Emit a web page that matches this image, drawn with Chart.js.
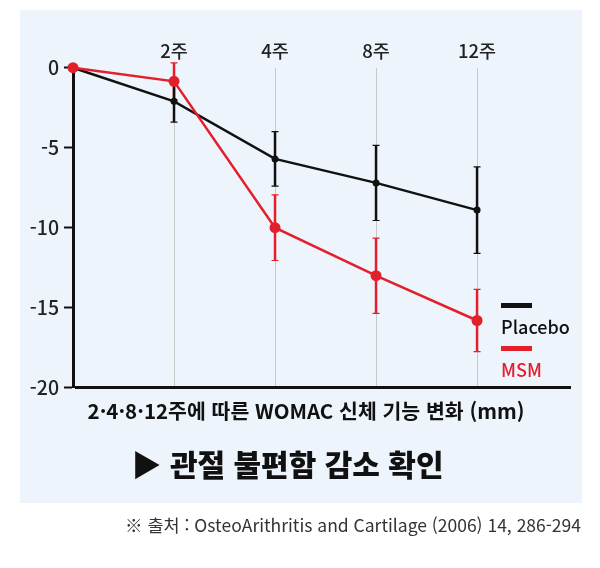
<!DOCTYPE html>
<html lang="ko">
<head>
<meta charset="utf-8">
<script src="https://cdn.jsdelivr.net/npm/chart.js@4.4.1/dist/chart.umd.min.js"></script>
<style>
  html, body { margin: 0; padding: 0; background: #fff; }
  body { width: 600px; height: 568px; position: relative; overflow: hidden;
         font-family: 'Noto Sans CJK KR', 'Noto Sans', sans-serif; }
  .panel { position: absolute; left: 20px; top: 10px; width: 562px; height: 493px; background: #eef4fc; }
  #chart { position: absolute; left: 0; top: 0; }
  .axis-title { position: absolute; left: 0; width: 612px; top: 394px; text-align: center;
                font-size: 20.5px; font-weight: 700; color: #111; line-height: 32px; }
  .main-title { position: absolute; left: 0; width: 575px; top: 443px; text-align: center;
                font-size: 30px; font-weight: 900; color: #111; line-height: 40px; }
  .source { position: absolute; right: 19px; top: 511px; font-size: 17.5px; color: #333; line-height: 28px; }
  .legend { position: absolute; left: 501px; font-size: 18px; line-height: 22px; font-weight: 500; }
  .legend .bar { width: 31px; height: 5px; margin-bottom: 7px; }
</style>
</head>
<body>
<div class="panel"></div>
<canvas id="chart" width="600" height="568"></canvas>
<div class="legend" style="top:303px; color:#111;"><div class="bar" style="background:#111;"></div>Placebo</div>
<div class="legend" style="top:346px; color:#e21f2b;"><div class="bar" style="background:#e21f2b;"></div>MSM</div>
<div class="axis-title">2·4·8·12주에 따른 WOMAC 신체 기능 변화 (mm)</div>
<div class="main-title">▶ 관절 불편함 감소 확인</div>
<div class="source">※ 출처 : OsteoArithritis and Cartilage (2006) 14, 286-294</div>
<script>
  // 주차 (x축 상단 라벨)
  const weekLabels = ['', '2주', '4주', '8주', '12주'];

  // WOMAC 신체 기능 변화 (mm)
  const placeboValues = [0, -2.1, -5.7, -7.2, -8.9];
  const placeboErrors = [0, 1.3, 1.7, 2.35, 2.7];
  const msmValues = [0, -0.85, -10.0, -13.0, -15.8];
  const msmErrors = [0, 1.15, 2.05, 2.35, 1.95];

  const yTicks = [0, -5, -10, -15, -20];

  const BLACK = '#111111';
  const RED = '#e21f2b';

  Chart.defaults.font.family = "'Noto Sans CJK KR', 'Noto Sans', sans-serif";

  const errorMap = { Placebo: placeboErrors, MSM: msmErrors };

  /**
   * 오차 막대 플러그인
   */
  const errorBars = {
    id: 'errorBars',
    beforeDatasetsDraw(chart) {
      const { ctx, scales } = chart;
      chart.data.datasets.forEach((ds, di) => {
        const errs = errorMap[ds.label];
        if (!errs || !chart.isDatasetVisible(di)) return;
        ds.data.forEach((pt, i) => {
          const err = errs[i];
          if (!err) return;
          const px = scales.x.getPixelForValue(pt.x);
          const top = scales.y.getPixelForValue(pt.y + err);
          const bot = scales.y.getPixelForValue(pt.y - err);
          ctx.save();
          ctx.strokeStyle = ds.borderColor;
          ctx.lineWidth = 2.5;
          ctx.beginPath();
          ctx.moveTo(px, top);
          ctx.lineTo(px, bot);
          ctx.stroke();
          // 캡
          ctx.lineWidth = 1.2;
          ctx.beginPath();
          ctx.moveTo(px - 3.5, top);
          ctx.lineTo(px + 3.5, top);
          ctx.moveTo(px - 3.5, bot);
          ctx.lineTo(px + 3.5, bot);
          ctx.stroke();
          ctx.restore();
        });
      });
    },
  };

  const toPoints = (values) => values.map((v, i) => ({ x: i, y: v }));

  new Chart(document.getElementById('chart'), {
    type: 'line',
    data: {
      datasets: [
        {
          label: 'MSM',
          data: toPoints(msmValues),
          borderColor: RED,
          backgroundColor: RED,
          borderWidth: 2.5,
          pointRadius: 5.5,
          pointBorderWidth: 0,
          pointBackgroundColor: RED,
          tension: 0,
          clip: false,
          order: 0,
        },
        {
          label: 'Placebo',
          data: toPoints(placeboValues),
          borderColor: BLACK,
          backgroundColor: BLACK,
          borderWidth: 2.5,
          pointRadius: 3.5,
          pointBorderWidth: 0,
          pointBackgroundColor: BLACK,
          tension: 0,
          clip: false,
          order: 1,
        },
      ],
    },
    options: {
      responsive: false,
      animation: false,
      events: [],
      layout: { padding: { left: 0, top: 0, right: 29, bottom: 180.3 } },
      plugins: {
        legend: { display: false },
        tooltip: { enabled: false },
      },
      scales: {
        x: {
          type: 'linear',
          position: 'top',
          min: 0,
          max: 4.93,
          afterFit: (scale) => { scale.height = 67.7; },
          afterBuildTicks: (scale) => {
            scale.ticks = weekLabels.map((_, i) => ({ value: i }));
          },
          border: { display: false },
          grid: {
            drawTicks: false,
            color: (c) => (c.tick && c.tick.value === 0 ? 'transparent' : '#c8c8c8'),
            lineWidth: 1,
          },
          ticks: {
            padding: 6,
            color: '#222',
            font: { size: 18.5, weight: 500 },
            callback: (v) => weekLabels[v] ?? '',
          },
        },
        y: {
          min: -20,
          max: 0,
          afterFit: (scale) => { scale.width = 73; },
          afterBuildTicks: (scale) => {
            scale.ticks = yTicks.map((v) => ({ value: v }));
          },
          border: { display: true, color: BLACK, width: 3 },
          grid: {
            drawTicks: true,
            tickLength: 9,
            tickColor: BLACK,
            tickWidth: 2,
            color: (c) => (c.tick && c.tick.value === -20 ? BLACK : 'transparent'),
            lineWidth: (c) => (c.tick && c.tick.value === -20 ? 3 : 1),
          },
          ticks: {
            padding: 5,
            color: '#222',
            font: { size: 19.5, weight: 500 },
            callback: (v) => String(v),
          },
        },
      },
    },
    plugins: [errorBars],
  });
</script>
</body>
</html>
